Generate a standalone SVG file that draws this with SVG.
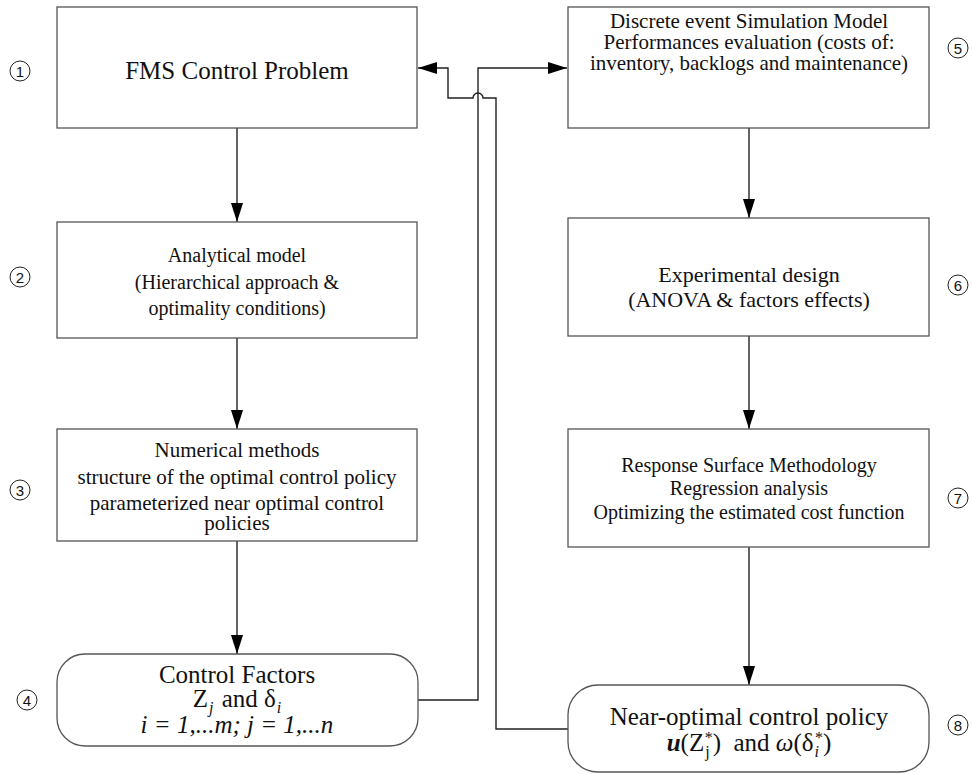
<svg xmlns="http://www.w3.org/2000/svg" width="972" height="774" viewBox="0 0 972 774">
<defs>
<style>
.box{fill:#fff;stroke:#555;stroke-width:1.3}
.t{font-family:"Liberation Serif","Times New Roman",serif;fill:#111;text-anchor:middle}
.num{font-family:"Liberation Sans",Arial,sans-serif;font-size:15px;fill:#111;text-anchor:middle}
.circ{fill:#fff;stroke:#222;stroke-width:1}
.c{fill:none;stroke:#222;stroke-width:1.4}
</style>
<marker id="ah" markerUnits="userSpaceOnUse" markerWidth="19" markerHeight="12" refX="19" refY="6" orient="auto">
<path d="M0,0 L19,6 L0,12 z" fill="#000"/>
</marker>
</defs>
<rect width="972" height="774" fill="#fff"/>

<g id="connectors">
<path class="c" d="M237,128 L237,222" marker-end="url(#ah)"/>
<path class="c" d="M237,338 L237,429" marker-end="url(#ah)"/>
<path class="c" d="M237,541 L237,654" marker-end="url(#ah)"/>
<path class="c" d="M749,128 L749,218" marker-end="url(#ah)"/>
<path class="c" d="M749,336 L749,429" marker-end="url(#ah)"/>
<path class="c" d="M749,547 L749,685" marker-end="url(#ah)"/>
<path class="c" d="M418,700 L478,700 L478,68 L567,68" marker-end="url(#ah)"/>
<path class="c" d="M568,729 L496,729 L496,98 L483,98 A5,5 0 0 0 473,98 L448,98 L448,68 L418,68" marker-end="url(#ah)"/>
</g>

<g id="node1">
<rect class="box" x="57" y="7" width="360" height="121"/>
<text class="t" x="237" y="79" font-size="25">FMS Control Problem</text>
</g>
<g id="node2">
<rect class="box" x="57" y="222" width="360" height="116"/>
<text class="t" font-size="20"><tspan x="237" y="262">Analytical model</tspan><tspan x="237" y="289">(Hierarchical approach &amp;</tspan><tspan x="237" y="315">optimality conditions)</tspan></text>
</g>
<g id="node3">
<rect class="box" x="57" y="429" width="360" height="112"/>
<text class="t" font-size="21"><tspan x="237" y="457">Numerical methods</tspan><tspan x="237" y="484">structure of the optimal control policy</tspan><tspan x="237" y="510">parameterized near optimal control</tspan><tspan x="237" y="530">policies</tspan></text>
</g>
<g id="node4">
<rect class="box" x="57" y="654" width="361" height="92" rx="28" ry="28"/>
<text class="t" font-size="25" x="237" y="683">Control Factors</text>
<text class="t" font-size="25" x="237" y="707">Z<tspan font-size="16" font-style="italic" dx="1" dy="6">j</tspan><tspan dx="2" dy="-6"> and δ</tspan><tspan font-size="16" font-style="italic" dx="1" dy="6">i</tspan></text>
<text class="t" font-size="25" font-style="italic" x="237" y="733">i = 1,...m; j = 1,...n</text>
</g>
<g id="node5">
<rect class="box" x="568" y="7" width="361" height="121"/>
<text class="t" font-size="21"><tspan x="749" y="28">Discrete event Simulation Model</tspan><tspan x="749" y="49">Performances evaluation (costs of:</tspan><tspan x="749" y="70">inventory, backlogs and maintenance)</tspan></text>
</g>
<g id="node6">
<rect class="box" x="568" y="218" width="361" height="118"/>
<text class="t" font-size="22"><tspan x="749" y="282">Experimental design</tspan><tspan x="749" y="307">(ANOVA &amp; factors effects)</tspan></text>
</g>
<g id="node7">
<rect class="box" x="568" y="429" width="361" height="118"/>
<text class="t" font-size="20"><tspan x="749" y="472">Response Surface Methodology</tspan><tspan x="749" y="495">Regression analysis</tspan><tspan x="749" y="519">Optimizing the estimated cost function</tspan></text>
</g>
<g id="node8">
<rect class="box" x="568" y="685" width="361" height="87" rx="30" ry="30"/>
<text class="t" font-size="25" x="749" y="725">Near-optimal control policy</text>
<text class="t" font-size="25" x="749" y="751" xml:space="preserve"><tspan font-weight="bold" font-style="italic">u</tspan>(Z<tspan font-size="16" dx="1" dy="6">j</tspan><tspan font-size="16" dx="-5" dy="-14">*</tspan><tspan dy="8">)  and </tspan><tspan font-style="italic">ω</tspan>(δ<tspan font-size="16" font-style="italic" dx="1" dy="6">i</tspan><tspan font-size="16" dx="-4" dy="-14">*</tspan><tspan dy="8">)</tspan></text>
</g>

<g id="labels">
<g id="lbl1"><circle class="circ" cx="20" cy="71" r="10"/><text class="num" x="20" y="76.5">1</text></g>
<g id="lbl2"><circle class="circ" cx="20" cy="277" r="10"/><text class="num" x="20" y="282.5">2</text></g>
<g id="lbl3"><circle class="circ" cx="20" cy="490" r="10"/><text class="num" x="20" y="495.5">3</text></g>
<g id="lbl4"><circle class="circ" cx="27" cy="700" r="10"/><text class="num" x="27" y="705.5">4</text></g>
<g id="lbl5"><circle class="circ" cx="958" cy="48" r="10"/><text class="num" x="958" y="53.5">5</text></g>
<g id="lbl6"><circle class="circ" cx="958" cy="285" r="10"/><text class="num" x="958" y="290.5">6</text></g>
<g id="lbl7"><circle class="circ" cx="958" cy="498" r="10"/><text class="num" x="958" y="503.5">7</text></g>
<g id="lbl8"><circle class="circ" cx="958" cy="725" r="10"/><text class="num" x="958" y="730.5">8</text></g>
</g>
</svg>
